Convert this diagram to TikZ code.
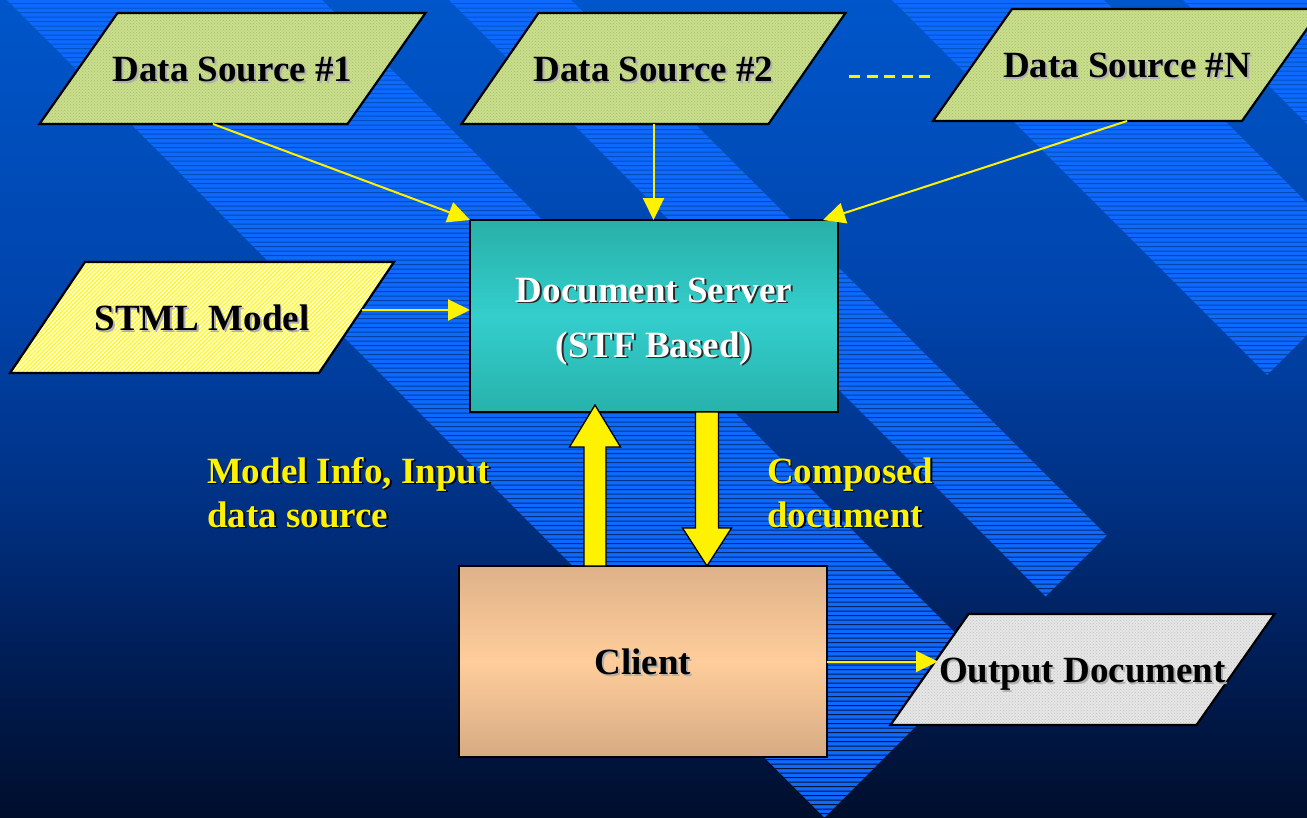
\documentclass[tikz,border=0pt]{standalone}
\usepackage{fontspec}
\setmainfont{Liberation Serif}
\usetikzlibrary{arrows.meta,patterns,calc}
\pgfdeclarelayer{bglayer}
\pgfdeclarelayer{shapelayer}
\pgfsetlayers{bglayer,shapelayer,main}

\definecolor{bgA}{RGB}{0,86,202}
\definecolor{bgB}{RGB}{0,68,172}
\definecolor{bgC}{RGB}{0,49,132}
\definecolor{bgD}{RGB}{0,30,88}
\definecolor{bgE}{RGB}{0,14,44}
\definecolor{stripe}{RGB}{14,106,255}
\definecolor{dsfill}{RGB}{202,222,142}
\definecolor{dsdot}{RGB}{165,192,100}
\definecolor{stmlbase}{RGB}{255,255,238}
\definecolor{stmlline}{RGB}{255,248,40}
\definecolor{outfill}{RGB}{230,230,230}
\definecolor{outdot}{RGB}{195,195,195}
\definecolor{srvtop}{RGB}{40,176,168}
\definecolor{srvmid}{RGB}{52,206,204}
\definecolor{srvbot}{RGB}{40,178,172}
\definecolor{clitop}{RGB}{222,178,137}
\definecolor{climid}{RGB}{255,205,155}
\definecolor{clibot}{RGB}{214,171,131}
\definecolor{lightshadow}{RGB}{175,175,175}
\definecolor{darkshadow}{RGB}{40,40,40}

\pgfdeclareverticalshading{bgshade}{100bp}{color(0bp)=(bgE); color(25bp)=(bgE); color(35.2bp)=(bgD); color(44.4bp)=(bgC); color(56.6bp)=(bgB); color(75bp)=(bgA); color(100bp)=(bgA)}

\newcommand{\bigfont}{\fontsize{37pt}{44pt}\selectfont\bfseries}
\newcommand{\stx}[3]{\rlap{\hspace{1.8pt}\raisebox{-1.8pt}{\color{#1}#3}}{\color{#2}#3}}
\newcommand{\paragon}[3]{\path[#3] ($(#1.south west)+(-#2,0)$) -- ($(#1.south east)+(-#2,0)$) -- ($(#1.north east)+(#2,0)$) -- ($(#1.north west)+(#2,0)$) -- cycle;}

\tikzset{
  pnode/.style={shape=rectangle, inner sep=0pt, outer sep=0pt, minimum height=111pt,
    text height=25.5pt, text depth=0pt, font=\bigfont},
  dsshape/.style={draw=black, line width=2.2pt, line join=miter,
    preaction={fill=dsfill}, preaction={pattern=crosshatch dots, pattern color=dsdot}},
  outshape/.style={draw=black, line width=2.2pt, line join=miter,
    preaction={fill=outfill}, preaction={pattern=crosshatch dots, pattern color=outdot}},
  serverbox/.style={shape=rectangle, draw=black, line width=2pt, inner sep=0pt, outer sep=0pt,
    minimum width=368pt, minimum height=192pt, top color=srvtop, bottom color=srvbot, middle color=srvmid,
    text height=25.5pt, text depth=53.5pt, font=\bigfont},
  clientbox/.style={shape=rectangle, draw=black, line width=2pt, inner sep=0pt, outer sep=0pt,
    minimum width=368pt, minimum height=191pt, top color=clitop, bottom color=clibot, middle color=climid,
    text height=25.5pt, text depth=0pt, font=\bigfont},
  lbl/.style={inner sep=0pt, outer sep=0pt, font=\bigfont, anchor=base west},
  yarrow/.style={draw=yellow, line width=2pt, -{Triangle[length=22pt,width=21pt]}},
  fatarrow/.style={fill=yellow, draw=black, line width=1.3pt, line join=miter},
  dashline/.style={draw=yellow, line width=3pt, dash pattern=on 11pt off 6.5pt}
}

\begin{document}
\begin{tikzpicture}[x=1pt,y=-1pt]
\useasboundingbox (0,0) rectangle (1307,817);

% ---------- nodes ----------
\node[pnode, minimum width=308pt] (ds1) at (232.5,68.5) {\stx{lightshadow}{black}{Data Source \#1}};
\node[pnode, minimum width=307pt] (ds2) at (653.5,68.5) {\stx{lightshadow}{black}{Data Source \#2}};
\node[pnode, minimum width=309pt, minimum height=112pt] (dsn) at (1127,65) {\stx{lightshadow}{black}{Data Source \#N}};
\node[pnode, minimum width=309pt] (stml) at (202,317.5) {\stx{lightshadow}{black}{STML Model}};
\node[pnode, minimum width=306pt] (output) at (1082.5,669.5) {\stx{lightshadow}{black}{Output Document}};
\node[serverbox] (server) at (654,316) {\vtop{\baselineskip=55pt
    \hbox to 320pt{\hfil\stx{darkshadow}{white}{Document Server}\hfil}
    \hbox to 320pt{\hfil\stx{darkshadow}{white}{(STF Based)}\hfil}}};
\node[clientbox] (client) at (643,661.5) {\stx{lightshadow}{black}{Client}};

\node[lbl] (infolbl) at (207,483) {\vtop{\baselineskip=44pt
    \hbox{\stx{black}{yellow}{Model Info, Input}}
    \hbox{\stx{black}{yellow}{data source}}}};
\node[lbl] (composedlbl) at (767,483) {\vtop{\baselineskip=44pt
    \hbox{\stx{black}{yellow}{Composed}}
    \hbox{\stx{black}{yellow}{document}}}};

% ---------- background ----------
\begin{pgfonlayer}{bglayer}
  \shade[shading=bgshade] (0,0) rectangle (1307,817);
  \begin{scope}
    \clip (7,0) -- (322,0) -- (982,660) -- (824.5,817.5) -- cycle
          (449,0) -- (571,0) -- (1106.5,535.5) -- (1045.5,596.5) -- cycle
          (892,0) -- (1104,0) -- (1373,269) -- (1267,375) -- cycle
          (1183,0) -- (1500,0) -- (1500,317) -- cycle;
    \fill[stripe] (0,0) rectangle (1307,817);
    \shade[shading=bgshade] \foreach \i in {0,...,181} {(0,{4.5*\i+3}) rectangle (1307,{4.5*\i+4.1})};
  \end{scope}
\end{pgfonlayer}

% ---------- parallelogram shapes ----------
\begin{pgfonlayer}{shapelayer}
  \paragon{ds1}{39}{dsshape}
  \paragon{ds2}{38.5}{dsshape}
  \paragon{dsn}{39.5}{dsshape}
  \paragon{output}{39}{outshape}
  \begin{scope}
    \paragon{stml}{37.5}{clip}
    \fill[stmlbase] (0,250) rectangle (420,390);
    \foreach \k in {0,...,125} \draw[stmlline, line width=1.4pt] ({-120+4.2*\k},380) -- ++(120,-120);
  \end{scope}
  \paragon{stml}{37.5}{draw=black, line width=2.2pt, line join=miter}
\end{pgfonlayer}

% ---------- connectors ----------
\draw[yarrow] ($(ds1.south)+(-19.5,0)$) -- (server.north west);
\draw[yarrow] (ds2.south) -- (ds2.south |- server.north);
\draw[yarrow] (dsn.south) -- ($(server.north east)+(-15,0)$);
\draw[yarrow] ($(stml.east)+(5,-7.5)$) coordinate (sa) -- (sa -| server.west);
\draw[yarrow] (client.east) -- ($(client.east -| output.west)+(8.5,0)$);
\draw[dashline] ($(ds2.east)+(42,7.5)$) -- ($(dsn.west)+(-42.5,11)$);

\coordinate (ua) at ($(client.north)+(-48,0)$);
\coordinate (da) at ($(server.south)+(53,0)$);
\draw[fatarrow] ($(ua)+(-11,0)$) -- ++(0,-119) -- ++(-14.5,0) -- ($(ua |- server.south)+(0,-7)$)
   -- ($(ua)+(25.5,-119)$) -- ++(-14.5,0) -- ($(ua)+(11,0)$) -- cycle;
\draw[fatarrow] ($(da)+(-11.5,0)$) -- ++(0,116) -- ++(-13,0) -- (da |- client.north)
   -- ($(da)+(24.5,116)$) -- ++(-13,0) -- ($(da)+(11.5,0)$) -- cycle;
\end{tikzpicture}
\end{document}
